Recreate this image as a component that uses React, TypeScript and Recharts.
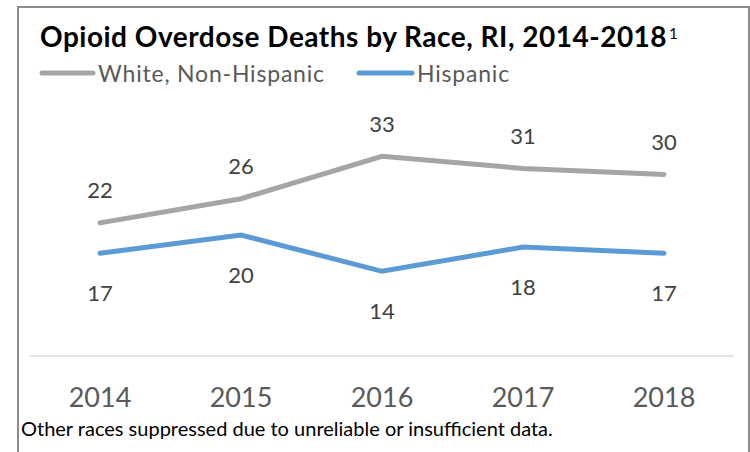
import React from 'react'
import { LineChart, Line, XAxis, YAxis, LabelList } from 'recharts'

const years = ['2014', '2015', '2016', '2017', '2018']
const whiteNonHispanic = [22, 26, 33, 31, 30]
const hispanic = [17, 20, 14, 18, 17]

const seriesNames = { white: 'White, Non-Hispanic', hispanic: 'Hispanic' }
const colors = { white: '#a5a5a5', hispanic: '#5b9bd5' }

const data = years.map((year, i) => ({
  year,
  white: whiteNonHispanic[i],
  hispanic: hispanic[i],
}))

const FONT = 'Lato, "Open Sans", sans-serif'

function AboveLabel(props: any) {
  const { x, y, value } = props
  return (
    <text x={x} y={y - 33} textAnchor="middle" dominantBaseline="central" fill="#404040" fontSize={22} fontFamily={FONT}>
      {value}
    </text>
  )
}

function BelowLabel(props: any) {
  const { x, y, value } = props
  return (
    <text x={x} y={y + 39} textAnchor="middle" dominantBaseline="central" fill="#404040" fontSize={22} fontFamily={FONT}>
      {value}
    </text>
  )
}

function YearTick(props: any) {
  const { x, payload } = props
  return (
    <text x={x} y={396} textAnchor="middle" dominantBaseline="central" fill="#595959" fontSize={27} fontFamily={FONT}>
      {payload.value}
    </text>
  )
}

// title, legend and footnote sit on top of the plot in their own svg
function Overlay() {
  const legend = [
    { key: 'white', label: seriesNames.white, color: colors.white, x: 42, w: 51 },
    { key: 'hispanic', label: seriesNames.hispanic, color: colors.hispanic, x: 359, w: 53 },
  ]
  return (
    <svg width={750} height={452} style={{ position: 'absolute', left: 0, top: 0, pointerEvents: 'none' }}>
      <text x={40} y={47} fontFamily={FONT} fontWeight={700} fontSize={28} letterSpacing={0.5} fill="#000">
        Opioid Overdose Deaths by Race, RI, 2014-2018
      </text>
      <text x={669} y={39} fontFamily={FONT} fontSize={15} fill="#000">
        1
      </text>
      {legend.map((it) => (
        <g key={it.key}>
          <line x1={it.x} x2={it.x + it.w} y1={73} y2={73} stroke={it.color} strokeWidth={5} strokeLinecap="round" />
          <text x={it.x + it.w + 5} y={82} fontFamily={FONT} fontSize={23} letterSpacing={0.8} fill="#595959">
            {it.label}
          </text>
        </g>
      ))}
      <text x={21} y={436} fontFamily={FONT} fontSize={20} fill="#000">
        Other races suppressed due to unreliable or insufficient data.
      </text>
    </svg>
  )
}

export default function App() {
  return (
    <div style={{ position: 'absolute', left: 0, top: 0, width: 750, height: 452, overflow: 'hidden', background: '#fff' }}>
      <div
        style={{
          position: 'absolute',
          left: 17,
          top: 6,
          width: 729,
          height: 460,
          border: '2px solid #8c8c8c',
        }}
      />
      <div style={{ position: 'absolute', left: 0, top: 0 }}>
        <LineChart width={750} height={452} data={data} margin={{ top: 114, right: 16, left: 30, bottom: 56 }}>
          <XAxis
            dataKey="year"
            padding={{ left: 70, right: 70 }}
            tickLine={false}
            axisLine={{ stroke: '#d9d9d9', strokeWidth: 1.5 }}
            tick={<YearTick />}
            height={40}
          />
          <YAxis hide domain={[0, 40]} />
          <Line
            dataKey="white"
            name={seriesNames.white}
            stroke={colors.white}
            strokeWidth={5}
            strokeLinecap="round"
            dot={false}
            isAnimationActive={false}
          >
            <LabelList dataKey="white" content={<AboveLabel />} />
          </Line>
          <Line
            dataKey="hispanic"
            name={seriesNames.hispanic}
            stroke={colors.hispanic}
            strokeWidth={5}
            strokeLinecap="round"
            dot={false}
            isAnimationActive={false}
          >
            <LabelList dataKey="hispanic" content={<BelowLabel />} />
          </Line>
        </LineChart>
      </div>
      <Overlay />
    </div>
  )
}
